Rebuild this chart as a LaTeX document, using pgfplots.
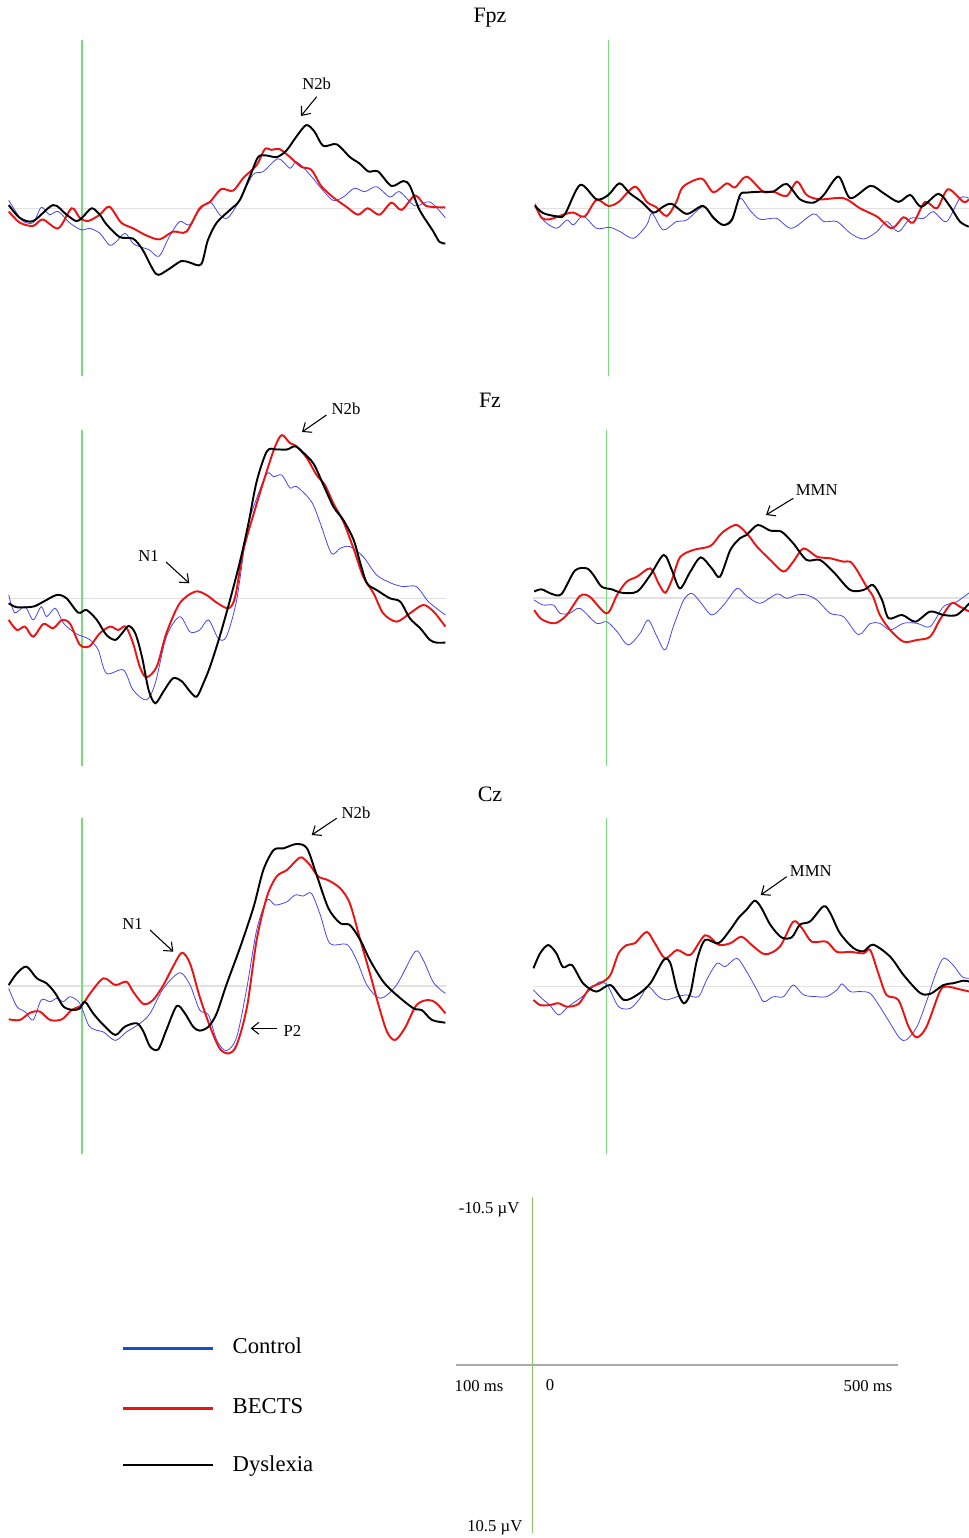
\documentclass[border=0pt]{standalone}
\usepackage{fontspec}
\setmainfont{Liberation Serif}
\usepackage{pgfplots}
\pgfplotsset{compat=1.18}
\usetikzlibrary{arrows.meta}
\definecolor{ctl}{RGB}{70,70,240}
\definecolor{bec}{RGB}{235,20,20}
\definecolor{dys}{RGB}{0,0,0}
\definecolor{legblue}{RGB}{20,80,200}
\definecolor{stimgreen}{RGB}{120,220,120}
\definecolor{basegray}{RGB}{225,225,225}
\definecolor{scalegreen}{RGB}{140,195,100}
\definecolor{scalegray}{RGB}{170,170,170}
\pgfplotsset{
  erp/.style={scale only axis, width=328.6pt, height=252pt,
    xmin=-100, xmax=492, ymin=-10.5, ymax=10.5, y dir=reverse,
    axis lines=none, clip=false, anchor=south west},
  cc/.style={ctl, line width=0.6pt, smooth, tension=0.5},
  bb/.style={bec, line width=1.45pt, smooth, tension=0.5},
  dd/.style={dys, line width=1.45pt, smooth, tension=0.5},
  zl/.style={basegray, line width=0.8pt},
  sl/.style={stimgreen, line width=0.8pt},
}
\tikzset{ann/.style={-{Straight Barb[length=5.5pt,width=9pt]}, line width=0.8pt},
  lab/.style={font=\fontsize{12.5}{14}\selectfont, anchor=base},
  ttl/.style={font=\fontsize{16.5}{18}\selectfont, anchor=base}}
\begin{document}
\begin{tikzpicture}
\path[use as bounding box] (0pt,0pt) rectangle (726.75pt,1153.5pt);

% ---------------- Fpz left
\begin{axis}[erp, at={(6pt,871.275pt)}]
\addplot[zl] coordinates {(-100,0) (492,0)};
\addplot[sl] coordinates {(0,-10.5) (0,10.5)};
\addplot[cc] coordinates {(-99,-0.5) (-91,0.1) (-80,0.8) (-66,0.9) (-55,-0.06) (-44,0.4) (-32,0.2) (-17,0.9) (-1,1.35) (10,1.25) (24,1.56) (37,2.3) (46,2.1) (58,1.56) (69,2.2) (78,2.4) (91,2.6) (104,3.0) (118,1.77) (132,0.83) (145,1.04) (159,0.1) (173,-0.4) (186,0.4) (197,0.6) (213,-0.5) (231,-2.1) (245,-2.3) (265,-3.1) (281,-2.5) (290,-2.9) (308,-2.1) (323,-1.25) (339,-0.5) (353,-0.7) (368,-1.25) (382,-1.04) (398,-1.35) (416,-0.7) (429,-1.04) (450,-0.15) (470,-0.4) (491,0.6)};
\addplot[bb] coordinates {(-99,0.2) (-84,0.9) (-66,1.1) (-53,0.7) (-32,1.25) (-14,0) (-3,0.6) (8,0.8) (24,0.4) (37,-0.1) (53,0.9) (69,1.25) (87,1.7) (105,1.94) (123,1.46) (141,1.46) (159,0) (173,-0.4) (188,-1.2) (204,-1.1) (218,-1.9) (236,-2.7) (247,-3.7) (256,-3.65) (267,-3.7) (281,-3.2) (296,-2.6) (310,-2.4) (323,-1.4) (339,-0.7) (357,-0.1) (373,0.4) (386,0) (402,0.4) (418,-0.35) (432,0.1) (450,-0.8) (465,-0.15) (491,-0.06)};
\addplot[dd] coordinates {(-99,-0.2) (-84,0.6) (-66,0.8) (-39,-0.2) (-21,0.4) (-8,0.8) (0,0.6) (13,0) (24,0.4) (33,1.0) (51,1.8) (69,1.9) (82,2.6) (100,4.1) (114,3.9) (134,3.3) (146,3.4) (161,3.5) (170,2.0) (182,0.9) (200,0.1) (213,-0.5) (227,-2.0) (238,-3.2) (249,-3.3) (263,-3.2) (276,-3.6) (290,-4.5) (303,-5.2) (314,-4.8) (326,-3.9) (344,-4.0) (362,-3.2) (375,-2.8) (387,-2.3) (400,-2.3) (418,-1.4) (434,-1.7) (443,-1.4) (456,0.1) (474,1.4) (483,2.1) (491,2.2)};
\end{axis}

% ---------------- Fpz right
\begin{axis}[erp, at={(400.725pt,871.275pt)}]
\addplot[zl] coordinates {(-100,0) (492,0)};
\addplot[sl] coordinates {(0,-10.5) (0,10.5)};
\addplot[cc] coordinates {(-99,-0.3) (-88,0.73) (-70,1.25) (-56,0.73) (-47,1.04) (-34,0.48) (-16,1.25) (2,1.19) (16,1.46) (34,1.875) (52,1.04) (59,0.31) (74,1.35) (92,0.83) (106,0.73) (128,-0.1) (142,0.52) (155,1.04) (167,0.63) (178,-0.63) (191,0.1) (205,0.69) (227,0.63) (248,1.25) (277,0.35) (291,0.83) (309,0.83) (327,1.56) (345,1.92) (363,1.46) (376,0.83) (392,1.46) (408,0.63) (426,0.63) (439,0.21) (457,0.83) (475,-0.63) (487,-0.63)};
\addplot[bb] coordinates {(-99,-0.2) (-90,0.6) (-79,0.69) (-61,0.4) (-47,0.27) (-32,0.52) (-16,-0.52) (0,-0.15) (14,-0.4) (36,-1.35) (52,-0.4) (65,-0.06) (79,0.48) (92,-0.4) (101,-1.35) (126,-1.85) (142,-1.0) (160,-1.56) (171,-1.3) (187,-1.98) (209,-1.04) (223,-1.04) (241,-0.77) (255,-1.67) (268,-0.83) (286,-0.56) (318,-0.63) (340,0) (363,0.52) (383,1.25) (399,0.56) (412,0.9) (428,-0.4) (444,0) (459,-1.19) (480,-0.4) (487,-0.56)};
\addplot[dd] coordinates {(-99,-0.15) (-88,0.3) (-70,0.5) (-59,0.4) (-38,-1.46) (-16,-0.56) (0,-0.83) (15,-1.56) (29,-0.94) (45,-0.4) (61,0.27) (74,-0.1) (86,-0.27) (106,0.35) (128,-0.15) (142,0.6) (155,1.04) (167,0.73) (178,-0.83) (187,-0.98) (209,-1.04) (223,-1.04) (241,-1.52) (259,-0.56) (277,-0.35) (291,-0.83) (311,-1.98) (327,-0.63) (354,-1.4) (372,-0.94) (392,-0.4) (408,-0.83) (423,-0.1) (446,-0.9) (462,-0.1) (475,0.83) (487,1.15)};
\end{axis}

% ---------------- Fz left
\begin{axis}[erp, at={(6pt,578.775pt)}]
\addplot[zl] coordinates {(-100,0) (492,0)};
\addplot[sl] coordinates {(0,-10.5) (0,10.5)};
\addplot[cc] coordinates {(-99,-0.21) (-91,0.9) (-77,0.52) (-66,1.35) (-55,0.52) (-48,1.15) (-36,0.625) (-25,1.56) (-9,2.19) (2,2.4) (11,2.6) (22,3.23) (33,4.69) (56,4.48) (69,5.73) (87,6.35) (99,5.31) (114,2.4) (132,1.15) (146,2.1) (159,1.98) (171,1.35) (184,2.5) (195,2.4) (209,0.1) (223,-4.27) (236,-6.25) (250,-7.8) (259,-7.6) (270,-7.7) (281,-6.9) (290,-6.98) (310,-6.04) (322,-4.69) (337,-2.81) (349,-3.13) (362,-3.23) (380,-2.6) (398,-1.46) (418,-0.94) (434,-0.73) (452,-0.73) (468,0.21) (491,1.04)};
\addplot[bb] coordinates {(-99,1.35) (-88,1.98) (-77,1.77) (-66,2.4) (-52,1.6) (-39,1.875) (-27,1.35) (-16,1.6) (-3,2.9) (10,3.0) (24,2.19) (38,1.77) (49,1.98) (59,1.77) (69,2.81) (78,4.27) (87,4.94) (101,4.27) (114,2.19) (132,0.31) (153,-0.42) (168,-0.21) (182,0.27) (198,0.625) (207,-0.1) (218,-3.0) (236,-5.9) (250,-8.0) (261,-9.5) (270,-10.2) (281,-9.7) (290,-9.5) (304,-8.75) (317,-7.7) (328,-7.1) (340,-5.9) (353,-4.8) (367,-3.1) (380,-1.35) (394,-0.31) (407,0.94) (425,1.46) (443,0.94) (461,0.42) (475,0.83) (491,1.77)};
\addplot[dd] coordinates {(-99,0.31) (-88,0.56) (-66,0.52) (-52,0.21) (-34,-0.21) (-21,0) (-5,0.9) (6,0.73) (20,1.35) (33,2.29) (45,2.6) (54,2.19) (63,1.73) (72,2.19) (81,3.65) (90,5.73) (99,6.56) (110,5.83) (123,5.0) (135,5.2) (146,5.83) (155,6.15) (164,5.31) (173,4.27) (186,2.4) (200,0.1) (214,-2.4) (225,-4.7) (236,-7.3) (250,-9.2) (263,-9.3) (277,-9.3) (288,-9.5) (299,-9.1) (313,-8.4) (326,-7.1) (340,-5.7) (353,-4.9) (367,-3.65) (376,-2.2) (385,-0.94) (398,-0.52) (416,0) (430,0.21) (443,1.25) (457,1.875) (470,2.6) (479,2.77) (491,2.77)};
\end{axis}

% ---------------- Fz right
\begin{axis}[erp, at={(399.525pt,579pt)}]
\addplot[zl] coordinates {(-100,0) (492,0)};
\addplot[sl] coordinates {(0,-10.5) (0,10.5)};
\addplot[cc] coordinates {(-98,0.125) (-86,0.44) (-72,0.44) (-63,0.96) (-50,0.96) (-36,0.65) (-14,1.58) (0,1.48) (14,2.1) (29,2.94) (45,2.21) (56,1.375) (68,2.42) (79,3.25) (90,1.79) (104,0.125) (115,-0.29) (126,0.23) (142,1.06) (158,0.44) (176,-0.6) (189,-0.125) (207,0.33) (230,-0.25) (243,0.02) (257,-0.19) (270,-0.19) (284,0.125) (302,0.96) (320,1.17) (340,2.29) (356,1.6) (369,1.58) (383,2.0) (401,1.58) (419,1.58) (437,1.79) (455,0.54) (473,0.23) (490,-0.33)};
\addplot[bb] coordinates {(-98,0.75) (-88,1.33) (-70,1.58) (-54,1.06) (-36,-0.125) (-23,-0.08) (0,0.96) (14,-0.19) (27,-1.02) (41,-1.33) (59,-1.85) (70,-0.92) (79,-0.33) (88,-1.125) (99,-2.54) (117,-3.0) (140,-3.25) (153,-3.94) (162,-4.29) (176,-4.56) (191,-3.94) (203,-3.21) (221,-2.38) (239,-1.65) (252,-2.27) (266,-3.1) (284,-2.58) (302,-2.48) (320,-2.27) (329,-2.27) (338,-1.75) (351,-0.71) (360,-0.08) (369,1.06) (383,2.0) (401,2.73) (419,2.625) (437,2.42) (450,1.375) (466,0.33) (477,0.54) (490,0.85)};
\addplot[dd] coordinates {(-98,-0.4) (-88,-0.54) (-74,-0.25) (-61,-0.25) (-43,-1.71) (-27,-1.85) (-18,-1.44) (-7,-0.71) (7,-0.54) (20,-0.33) (41,-0.40) (59,-1.44) (77,-2.69) (88,-1.75) (99,-0.60) (113,-1.65) (127,-2.54) (142,-1.85) (153,-1.33) (167,-3.0) (180,-3.73) (189,-3.94) (204,-4.56) (221,-4.21) (236,-4.15) (252,-3.42) (270,-2.38) (288,-2.38) (306,-1.65) (329,-0.5) (347,-0.5) (360,-0.81) (372,0.125) (381,1.27) (399,1.06) (417,1.48) (437,0.85) (455,1.06) (473,1.06) (490,0.33)};
\end{axis}

% ---------------- Cz left
\begin{axis}[erp, at={(6pt,288pt)}]
\addplot[zl] coordinates {(-100,0) (492,0)};
\addplot[sl] coordinates {(0,-10.5) (0,10.5)};
\addplot[cc] coordinates {(-99,0.15) (-88,1.29) (-77,1.6) (-66,2.125) (-55,0.875) (-43,0.98) (-34,0.77) (-25,0.98) (-16,0.67) (-3,1.08) (9,2.46) (20,2.77) (29,2.875) (45,3.4) (60,2.875) (78,2.35) (92,1.71) (110,0.15) (132,-0.83) (146,-0.06) (159,1.5) (171,1.81) (182,3.375) (195,4.04) (209,3.19) (223,0.04) (236,-3.5) (250,-5.375) (261,-5.06) (277,-5.27) (288,-5.69) (299,-5.625) (310,-5.79) (322,-4.44) (335,-2.65) (358,-2.6) (371,-1.625) (385,-0.06) (403,0.77) (425,-0.06) (450,-2.15) (461,-1.625) (475,-0.21) (491,0.46)};
\addplot[bb] coordinates {(-99,2.08) (-84,2.125) (-70,1.67) (-57,1.6) (-43,2.125) (-27,2.08) (-14,1.5) (0,1.19) (11,0.46) (29,-0.48) (45,-0.06) (60,-0.27) (69,0.35) (83,1.125) (96,0.875) (110,-0.06) (123,-1.21) (135,-2.08) (146,-1.4) (159,0.67) (173,2.54) (186,3.9) (198,4.21) (209,3.69) (223,1.29) (236,-2.875) (250,-5.6) (263,-6.85) (277,-7.25) (290,-7.875) (297,-8.04) (308,-7.56) (319,-6.85) (333,-6.6) (349,-6.1) (362,-5.15) (376,-2.875) (389,-0.79) (400,1.08) (412,2.85) (423,3.375) (436,2.65) (452,1.19) (468,0.875) (479,1.08) (491,1.71)};
\addplot[dd] coordinates {(-99,-0.06) (-88,-0.79) (-75,-1.21) (-61,-0.48) (-48,-0.17) (-36,0.46) (-25,1.29) (-12,1.5) (-3,1.40) (4,0.98) (15,1.71) (29,2.44) (45,3.06) (58,2.54) (74,2.33) (83,2.85) (92,3.79) (103,3.96) (114,2.75) (128,1.25) (139,1.71) (150,2.54) (159,2.79) (171,2.54) (182,1.71) (195,-0.06) (214,-2.46) (232,-4.96) (245,-7.25) (259,-8.5) (272,-8.6) (290,-8.875) (304,-8.6) (317,-6.94) (333,-4.85) (349,-3.92) (362,-3.81) (376,-2.875) (389,-1.625) (407,-0.27) (425,0.56) (448,1.4) (459,1.5) (473,2.125) (491,2.29)};
\end{axis}

% ---------------- Cz right
\begin{axis}[erp, at={(399.525pt,287.775pt)}]
\addplot[zl] coordinates {(-100,0) (492,0)};
\addplot[sl] coordinates {(0,-10.5) (0,10.5)};
\addplot[cc] coordinates {(-99,0.23) (-88,0.75) (-77,1.17) (-65,1.79) (-52,1.27) (-36,0.75) (-23,0.23) (-9,-0.29) (2,0.02) (16,1.27) (32,1.375) (45,0.75) (56,0.02) (70,0.65) (81,0.85) (95,0.65) (108,0.54) (124,0.65) (135,-0.4) (149,-1.44) (160,-1.23) (176,-1.75) (189,-0.92) (203,0.23) (212,0.96) (225,0.65) (239,0.65) (252,-0.08) (266,0.54) (284,0.65) (297,0.65) (311,0.23) (318,-0.15) (329,0.33) (342,0.33) (356,0.44) (369,1.27) (383,2.31) (396,3.25) (405,3.35) (419,2.54) (432,0.96) (444,-0.71) (455,-1.75) (468,-1.33) (480,-0.6) (490,-0.5)};
\addplot[bb] coordinates {(-99,0.85) (-90,1.17) (-77,1.17) (-65,1.06) (-54,1.27) (-38,1.1) (-23,0.125) (-7,-0.23) (5,-0.71) (16,-2.06) (27,-2.58) (38,-2.69) (54,-3.4) (65,-2.69) (79,-1.75) (95,-2.27) (113,-1.96) (133,-3.19) (151,-2.6) (167,-2.69) (182,-3.1) (196,-2.58) (214,-2.0) (234,-2.48) (252,-4.04) (264,-3.625) (277,-2.79) (297,-2.79) (311,-2.15) (329,-2.15) (347,-2.06) (356,-2.27) (367,-0.81) (378,0.54) (394,0.85) (408,2.54) (419,3.19) (432,2.54) (450,0.33) (459,0.02) (477,0.19) (490,0.33)};
\addplot[dd] coordinates {(-99,-1.125) (-90,-2.06) (-79,-2.58) (-68,-2.06) (-59,-1.19) (-47,-1.33) (-32,-0.19) (-14,0.33) (5,-0.08) (23,0.85) (41,0.54) (59,-0.19) (77,-1.65) (86,-1.44) (95,0.23) (104,1.06) (113,0.44) (122,-1.65) (133,-2.9) (151,-2.69) (167,-3.54) (178,-4.27) (189,-4.79) (200,-5.35) (209,-4.9) (221,-3.85) (236,-3.06) (250,-3.06) (261,-3.85) (275,-4.06) (293,-5.0) (302,-4.58) (315,-3.33) (333,-2.4) (347,-2.19) (360,-2.6) (383,-1.85) (401,-0.71) (423,0.4) (437,0.48) (455,-0.08) (468,-0.19) (482,-0.35) (490,-0.29)};
\end{axis}

% ---------------- scale axis
\begin{axis}[scale only axis, width=331.5pt, height=252pt, xmin=-105, xmax=500,
  ymin=-10.5, ymax=10.5, y dir=reverse, axis lines=none, clip=false,
  anchor=south west, at={(342pt,3.75pt)}]
\addplot[scalegray, line width=1pt] coordinates {(-105,0) (500,0)};
\addplot[scalegreen, line width=0.9pt] coordinates {(0,-10.5) (0,10.5)};
\end{axis}

\begin{scope}[x=0.75pt,y=-0.75pt,shift={(0pt,1153.5pt)}]
% ---------------- titles
\node[ttl] at (490,22.7) {Fpz};
\node[ttl] at (490,407.5) {Fz};
\node[ttl] at (490,801.5) {Cz};

% ---------------- annotations
\node[lab] at (316.7,89.3) {N2b};
\draw[ann] (316.7,96.7) -- (301,116);
\node[lab] at (346,415) {N2b};
\draw[ann] (326.5,415) -- (302,432);
\node[lab] at (148.5,561.7) {N1};
\draw[ann] (166,562) -- (189.3,583.3);
\node[lab] at (816.7,496) {MMN};
\draw[ann] (793.3,498.3) -- (766,515);
\node[lab] at (356,818.3) {N2b};
\draw[ann] (336.7,818.3) -- (311.7,835);
\node[lab] at (132.5,930) {N1};
\draw[ann] (150,930) -- (173.3,951.7);
\node[lab] at (292.5,1037) {P2};
\draw[ann] (276.7,1028.3) -- (250.7,1028.3);
\node[lab] at (810.8,876.7) {MMN};
\draw[ann] (786.7,876.7) -- (760.7,895);

% ---------------- scale labels
\node[lab, anchor=base east] at (524,1213.3) {-10.5 µV};
\node[lab, anchor=base east] at (527,1531) {10.5 µV};
\node[lab, anchor=base west] at (450,1391.5) {100 ms};
\node[lab] at (550,1391) {0};
\node[lab, anchor=base east] at (897,1391.5) {500 ms};

% ---------------- legend
\draw[legblue, line width=2.2pt] (123,1348.3) -- (213,1348.3);
\draw[bec, line width=2.2pt] (123,1408.3) -- (213,1408.3);
\draw[dys, line width=2.2pt] (123,1465) -- (213,1465);
\node[font=\fontsize{17}{19}\selectfont, anchor=base west] at (228,1353.3) {Control};
\node[font=\fontsize{17}{19}\selectfont, anchor=base west] at (228,1413.3) {BECTS};
\node[font=\fontsize{17}{19}\selectfont, anchor=base west] at (228,1471.7) {Dyslexia};
\end{scope}
\end{tikzpicture}
\end{document}
